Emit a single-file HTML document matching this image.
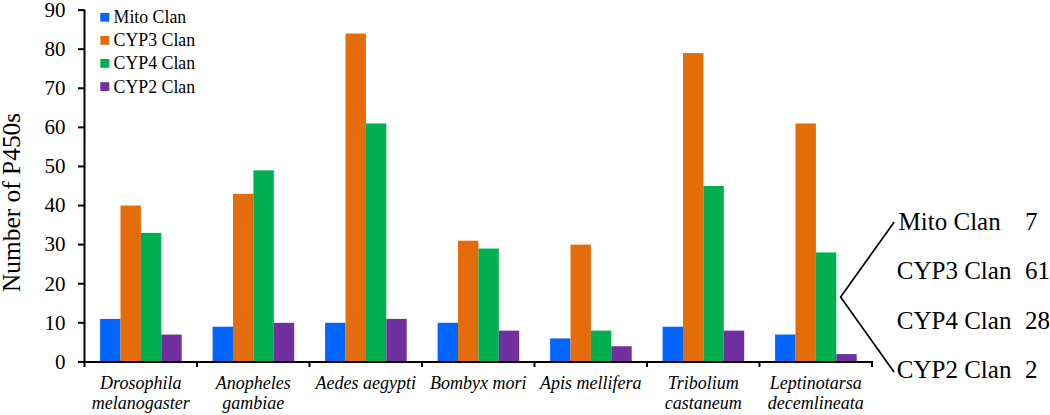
<!DOCTYPE html>
<html><head><meta charset="utf-8"><style>
html,body{margin:0;padding:0;background:#fff;}
svg{display:block;}
text{font-family:"Liberation Serif",serif;fill:#000;}
.yt{font-size:21px;text-anchor:end;}
.xl{font-size:18px;font-style:italic;text-anchor:middle;}
.yttl{font-size:25.4px;text-anchor:middle;}
.lg{font-size:17.8px;}
.rt{font-size:25px;}
</style></head><body>
<svg width="1050" height="415" viewBox="0 0 1050 415">
<rect x="100.10" y="318.90" width="20.40" height="43.00" fill="#0066FF"/>
<rect x="120.50" y="205.54" width="20.40" height="156.36" fill="#E46C0A"/>
<rect x="140.90" y="232.90" width="20.40" height="129.00" fill="#00B050"/>
<rect x="161.30" y="334.54" width="20.40" height="27.36" fill="#7030A0"/>
<rect x="212.60" y="326.72" width="20.40" height="35.18" fill="#0066FF"/>
<rect x="233.00" y="193.81" width="20.40" height="168.09" fill="#E46C0A"/>
<rect x="253.40" y="170.36" width="20.40" height="191.54" fill="#00B050"/>
<rect x="273.80" y="322.81" width="20.40" height="39.09" fill="#7030A0"/>
<rect x="325.10" y="322.81" width="20.40" height="39.09" fill="#0066FF"/>
<rect x="345.50" y="33.54" width="20.40" height="328.36" fill="#E46C0A"/>
<rect x="365.90" y="123.45" width="20.40" height="238.45" fill="#00B050"/>
<rect x="386.30" y="318.90" width="20.40" height="43.00" fill="#7030A0"/>
<rect x="437.60" y="322.81" width="20.40" height="39.09" fill="#0066FF"/>
<rect x="458.00" y="240.72" width="20.40" height="121.18" fill="#E46C0A"/>
<rect x="478.40" y="248.54" width="20.40" height="113.36" fill="#00B050"/>
<rect x="498.80" y="330.63" width="20.40" height="31.27" fill="#7030A0"/>
<rect x="550.10" y="338.45" width="20.40" height="23.45" fill="#0066FF"/>
<rect x="570.50" y="244.63" width="20.40" height="117.27" fill="#E46C0A"/>
<rect x="590.90" y="330.63" width="20.40" height="31.27" fill="#00B050"/>
<rect x="611.30" y="346.26" width="20.40" height="15.64" fill="#7030A0"/>
<rect x="662.60" y="326.72" width="20.40" height="35.18" fill="#0066FF"/>
<rect x="683.00" y="53.09" width="20.40" height="308.81" fill="#E46C0A"/>
<rect x="703.40" y="185.99" width="20.40" height="175.91" fill="#00B050"/>
<rect x="723.80" y="330.63" width="20.40" height="31.27" fill="#7030A0"/>
<rect x="775.10" y="334.54" width="20.40" height="27.36" fill="#0066FF"/>
<rect x="795.50" y="123.45" width="20.40" height="238.45" fill="#E46C0A"/>
<rect x="815.90" y="252.45" width="20.40" height="109.45" fill="#00B050"/>
<rect x="836.30" y="354.08" width="20.40" height="7.82" fill="#7030A0"/>
<line x1="84.5" y1="9.59" x2="84.5" y2="367.0" stroke="#000" stroke-width="2"/>
<line x1="78" y1="361.9" x2="873.00" y2="361.9" stroke="#000" stroke-width="2"/>
<line x1="78" y1="361.90" x2="84.5" y2="361.90" stroke="#000" stroke-width="2"/>
<text x="65.5" y="368.70" class="yt">0</text>
<line x1="78" y1="322.81" x2="84.5" y2="322.81" stroke="#000" stroke-width="2"/>
<text x="65.5" y="329.61" class="yt">10</text>
<line x1="78" y1="283.72" x2="84.5" y2="283.72" stroke="#000" stroke-width="2"/>
<text x="65.5" y="290.52" class="yt">20</text>
<line x1="78" y1="244.63" x2="84.5" y2="244.63" stroke="#000" stroke-width="2"/>
<text x="65.5" y="251.43" class="yt">30</text>
<line x1="78" y1="205.54" x2="84.5" y2="205.54" stroke="#000" stroke-width="2"/>
<text x="65.5" y="212.34" class="yt">40</text>
<line x1="78" y1="166.45" x2="84.5" y2="166.45" stroke="#000" stroke-width="2"/>
<text x="65.5" y="173.25" class="yt">50</text>
<line x1="78" y1="127.36" x2="84.5" y2="127.36" stroke="#000" stroke-width="2"/>
<text x="65.5" y="134.16" class="yt">60</text>
<line x1="78" y1="88.27" x2="84.5" y2="88.27" stroke="#000" stroke-width="2"/>
<text x="65.5" y="95.07" class="yt">70</text>
<line x1="78" y1="49.18" x2="84.5" y2="49.18" stroke="#000" stroke-width="2"/>
<text x="65.5" y="55.98" class="yt">80</text>
<line x1="78" y1="10.09" x2="84.5" y2="10.09" stroke="#000" stroke-width="2"/>
<text x="65.5" y="16.89" class="yt">90</text>
<line x1="197.00" y1="361.9" x2="197.00" y2="367.0" stroke="#000" stroke-width="2"/>
<line x1="309.50" y1="361.9" x2="309.50" y2="367.0" stroke="#000" stroke-width="2"/>
<line x1="422.00" y1="361.9" x2="422.00" y2="367.0" stroke="#000" stroke-width="2"/>
<line x1="534.50" y1="361.9" x2="534.50" y2="367.0" stroke="#000" stroke-width="2"/>
<line x1="647.00" y1="361.9" x2="647.00" y2="367.0" stroke="#000" stroke-width="2"/>
<line x1="759.50" y1="361.9" x2="759.50" y2="367.0" stroke="#000" stroke-width="2"/>
<line x1="872.00" y1="361.9" x2="872.00" y2="367.0" stroke="#000" stroke-width="2"/>
<text x="140.75" y="388.8" class="xl">Drosophila</text>
<text x="140.75" y="409.2" class="xl">melanogaster</text>
<text x="253.25" y="388.8" class="xl">Anopheles</text>
<text x="253.25" y="409.2" class="xl">gambiae</text>
<text x="365.75" y="388.8" class="xl">Aedes aegypti</text>
<text x="478.25" y="388.8" class="xl">Bombyx mori</text>
<text x="590.75" y="388.8" class="xl">Apis mellifera</text>
<text x="703.25" y="388.8" class="xl">Tribolium</text>
<text x="703.25" y="409.2" class="xl">castaneum</text>
<text x="815.75" y="388.8" class="xl">Leptinotarsa</text>
<text x="815.75" y="409.2" class="xl">decemlineata</text>
<text transform="translate(19.5,202.4) rotate(-90)" class="yttl">Number of P450s</text>
<rect x="100.3" y="12.90" width="9" height="8.8" fill="#0066FF"/>
<text x="113.6" y="22.90" class="lg">Mito Clan</text>
<rect x="100.3" y="36.00" width="9" height="8.8" fill="#E46C0A"/>
<text x="113.6" y="45.50" class="lg">CYP3 Clan</text>
<rect x="100.3" y="59.00" width="9" height="8.8" fill="#00B050"/>
<text x="113.6" y="69.30" class="lg">CYP4 Clan</text>
<rect x="100.3" y="82.20" width="9" height="8.8" fill="#7030A0"/>
<text x="113.6" y="92.60" class="lg">CYP2 Clan</text>
<polyline points="894.2,221.9 840.6,297.1 894,372.1" fill="none" stroke="#000" stroke-width="1.7"/>
<text x="898.6" y="229.60" class="rt">Mito Clan</text>
<text x="1025" y="229.60" class="rt">7</text>
<text x="896.8" y="279.00" class="rt">CYP3 Clan</text>
<text x="1025" y="279.00" class="rt">61</text>
<text x="896.8" y="329.00" class="rt">CYP4 Clan</text>
<text x="1025" y="329.00" class="rt">28</text>
<text x="896.8" y="377.90" class="rt">CYP2 Clan</text>
<text x="1025" y="377.90" class="rt">2</text>
</svg>
</body></html>
